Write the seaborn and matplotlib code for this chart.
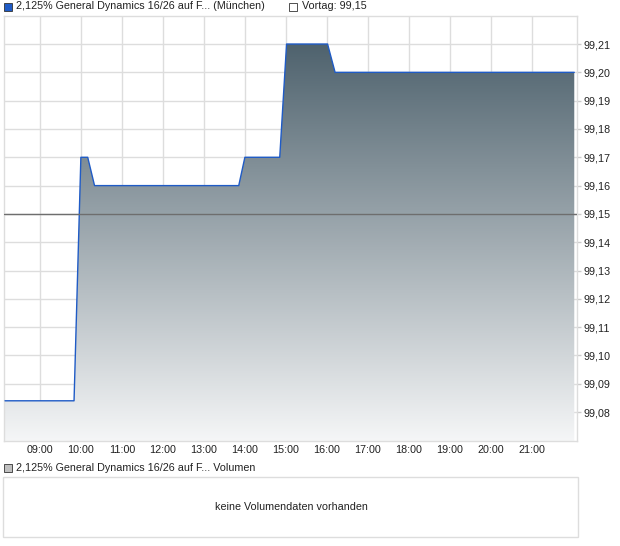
import numpy as np
import pandas as pd
import matplotlib
matplotlib.use("Agg")
import matplotlib.pyplot as plt
from matplotlib.patches import Rectangle
from matplotlib.colors import LinearSegmentedColormap
import seaborn as sns

# Kursverlauf (München)
zeiten = ["08:09", "09:50", "10:00", "10:10", "10:20", "13:51", "14:00",
          "14:51", "15:01", "16:01", "16:12", "22:02"]
kurse = [99.084, 99.084, 99.17, 99.17, 99.16, 99.16, 99.17,
         99.17, 99.21, 99.21, 99.20, 99.20]
vortag = 99.15
x_ticks = ["09:00", "10:00", "11:00", "12:00", "13:00", "14:00", "15:00",
           "16:00", "17:00", "18:00", "19:00", "20:00", "21:00"]
y_ticks = [99.08, 99.09, 99.10, 99.11, 99.12, 99.13, 99.14,
           99.15, 99.16, 99.17, 99.18, 99.19, 99.20, 99.21]

def to_h(s):
    h, m = s.split(":")
    return int(h) + int(m) / 60

df = pd.DataFrame({"zeit": [to_h(t) for t in zeiten], "kurs": kurse})

sns.set_style("white")
plt.rcParams["font.family"] = ["Liberation Sans", "DejaVu Sans"]
fs = 7.75
plt.rcParams["font.size"] = fs

W, H = 620, 546
fig = plt.figure(figsize=(W / 100, H / 100), dpi=100)

def fx(px):
    return px / W

def fy(py):
    return 1 - py / H

# Hauptchart
ax = fig.add_axes([fx(4), fy(441), fx(577 - 4), (441 - 16) / H])
xmin, xmax = 8.125, 22.1
ymin, ymax = 99.0698, 99.2199
ax.set_xlim(xmin, xmax)
ax.set_ylim(ymin, ymax)

ax.set_xticks([to_h(t) for t in x_ticks])
ax.set_xticklabels(x_ticks)
ax.set_yticks(y_ticks)
ax.set_yticklabels([f"{v:.2f}".replace(".", ",") for v in y_ticks])
ax.yaxis.tick_right()
ax.tick_params(axis="x", length=0, pad=3, labelsize=fs, colors="#222222")
ax.tick_params(axis="y", length=3, width=1, pad=2, labelsize=fs,
               color="#cccccc", labelcolor="#222222", right=True, left=False)
ax.grid(True, color="#dddddd", linewidth=1)
ax.set_axisbelow(True)
for sp in ax.spines.values():
    sp.set_color("#dddddd")
    sp.set_linewidth(1)

# Verlaufsfläche
cmap = LinearSegmentedColormap.from_list("grad", ["#f5f6f7", "#435864"])
grad = np.linspace(0, 1, 256).reshape(-1, 1)
img = ax.imshow(grad, cmap=cmap, aspect="auto", origin="lower",
                extent=[xmin, xmax, ymin, ymax], zorder=2)
poly = ax.fill_between(df["zeit"], df["kurs"], ymin, color="none", zorder=2)
clip = poly.get_paths()[0]
img.set_clip_path(clip, transform=ax.transData)

sns.lineplot(data=df, x="zeit", y="kurs", ax=ax, color="#1f5bc6",
             linewidth=1.0, estimator=None, zorder=4)
ax.axhline(vortag, color="#6e6e6e", linewidth=1, zorder=5)
ax.set_xlabel("")
ax.set_ylabel("")
ax.set_xlim(xmin, xmax)
ax.set_ylim(ymin, ymax)

# Legende oben
fig.patches.append(Rectangle((fx(4), fy(11)), 8 / W, 8 / H, transform=fig.transFigure,
                             facecolor="#1f5bc6", edgecolor="#333333", linewidth=0.6))
fig.text(fx(16), fy(6), "2,125% General Dynamics 16/26 auf F... (München)",
         va="center", ha="left", fontsize=fs, color="#222222")
fig.patches.append(Rectangle((fx(289), fy(11)), 8 / W, 8 / H, transform=fig.transFigure,
                             facecolor="white", edgecolor="#333333", linewidth=0.6))
fig.text(fx(302), fy(6), "Vortag: 99,15",
         va="center", ha="left", fontsize=fs, color="#222222")

# Volumen
fig.patches.append(Rectangle((fx(4), fy(472)), 8 / W, 8 / H, transform=fig.transFigure,
                             facecolor="#c0c0c0", edgecolor="#333333", linewidth=0.6))
fig.text(fx(16), fy(468), "2,125% General Dynamics 16/26 auf F... Volumen",
         va="center", ha="left", fontsize=fs, color="#222222")
fig.patches.append(Rectangle((fx(3), fy(537)), (578 - 3) / W, (537 - 477) / H,
                             transform=fig.transFigure, facecolor="white",
                             edgecolor="#dddddd", linewidth=1))
fig.text(fx(291), fy(507), "keine Volumendaten vorhanden",
         va="center", ha="center", fontsize=fs, color="#222222")

fig.savefig("out.png", dpi=100)
